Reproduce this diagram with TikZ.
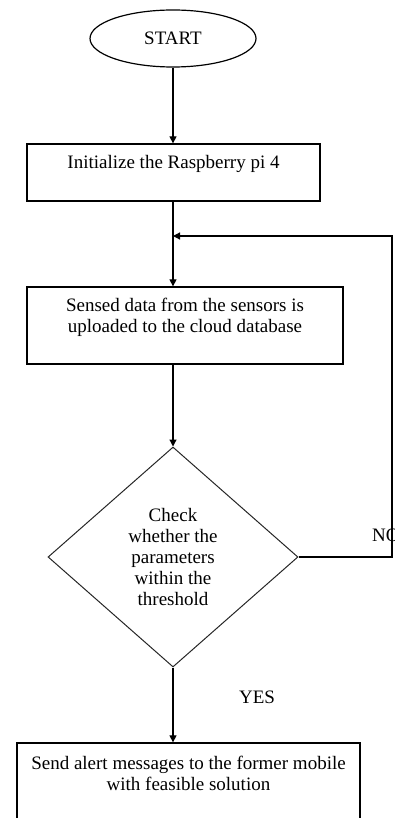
\documentclass[tikz,border=0pt]{standalone}
\usepackage{fontspec}
\setmainfont{Liberation Serif}
\usetikzlibrary{shapes.geometric,arrows.meta}

\begin{document}
\begin{tikzpicture}[x=1pt,y=-1pt,
    every node/.style={font=\fontsize{19}{21}\selectfont},
    procbox/.style={draw,rectangle,line width=1.3pt,align=center,inner sep=0pt},
    flow/.style={line width=1.2pt,-{Triangle[length=7pt,width=7pt]}}]
  \useasboundingbox (0,0) rectangle (395,818);

  % Draw the start oval
  \node[draw,ellipse,line width=1.2pt,minimum width=166pt,minimum height=57pt,inner sep=0pt] (start) at (173,38.5) {START};

  % Draw the process boxes
  \node[procbox,minimum width=293pt,minimum height=57pt] (init) at (173.5,172.5) {Initialize the Raspberry pi 4\\ \mbox{}};
  \node[procbox,minimum width=316pt,minimum height=77pt] (sense) at (185,325.5) {Sensed data from the sensors is\\ uploaded to the cloud database\\ \mbox{}};

  % Draw the decision
  \node[draw,diamond,line width=1pt,draw=black!85,minimum width=250pt,minimum height=220pt,inner sep=0pt,align=center] (check) at (173,557) {Check\\ whether the\\ parameters\\ within the\\ threshold};

  % Draw the last box (runs off the bottom)
  \node[procbox,minimum width=343pt,minimum height=82pt] (alert) at (188.5,784) {Send alert messages to the former mobile\\ with feasible solution\\ \mbox{}};

  % Draw branch labels
  \node[anchor=west,inner sep=0pt] (no) at (372,535) {NO};
  \node (yes) at (257,697) {YES};

  % Draw the arrows
  \coordinate (back) at (392,236);
  \coordinate (join) at (173,236);
  \draw[flow] (start.south) -- (init.north -| start.south);
  \draw[flow] (init.south -| start.south) -- (sense.north -| start.south);
  \draw[flow] (sense.south -| check.north) -- (check.north);
  \draw[flow] (check.south) -- (alert.north -| check.south);
  \draw[flow] (check.east) -| (back) -- (join);
\end{tikzpicture}
\end{document}
